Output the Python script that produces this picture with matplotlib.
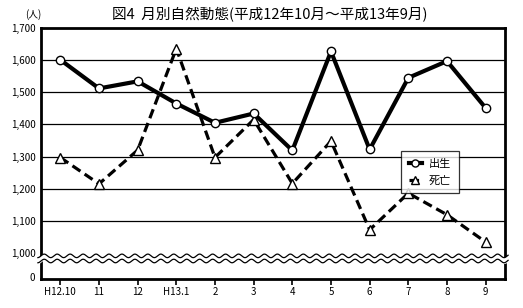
import numpy as np
import matplotlib
matplotlib.use('Agg')
import matplotlib.pyplot as plt

plt.rcParams['font.family'] = ['Noto Sans CJK JP', 'DejaVu Sans']

# data
months = ['H12.10', '11', '12', 'H13.1', '2', '3', '4', '5', '6', '7', '8', '9']
births = [1601, 1512, 1534, 1465, 1405, 1434, 1319, 1627, 1322, 1545, 1597, 1451]
deaths = [1297, 1215, 1320, 1636, 1297, 1415, 1216, 1348, 1072, 1186, 1119, 1034]
ytick_values = [1000, 1100, 1200, 1300, 1400, 1500, 1600, 1700]

y_bottom = 919
zero_pos = 925

fig = plt.figure(figsize=(5.23, 3.08), dpi=100)
ax = fig.add_axes([41/523, 1-279/308, 464/523, 251/308])

x = np.arange(len(months))

# grid
for v in ytick_values[1:-1]:
    ax.axhline(v, color='black', lw=0.9, zorder=1)

ax.plot(x, births, color='black', lw=3, marker='o', ms=6, mfc='white',
        mec='black', mew=1, label='出生', zorder=5)
ax.plot(x, deaths, color='black', lw=2.3, ls=(0, (3, 1.6)), marker='^', ms=7,
        mfc='white', mec='black', mew=1, label='死亡', zorder=4)

ax.set_xlim(-0.5, len(months) - 0.5)
ax.set_ylim(y_bottom, 1700)

# axis break
xw = np.linspace(-0.58, len(months) - 0.42, 600)
wave = 5.5 * np.sin(2 * np.pi * (xw + 0.5) / 0.335)
ax.fill_between(xw, 991 + wave, 975 + wave, color='white', zorder=3, clip_on=False)
ax.plot(xw, 991 + wave, color='black', lw=0.9, zorder=3.5, clip_on=False)
ax.plot(xw, 975 + wave, color='black', lw=0.9, zorder=3.5, clip_on=False)

ax.set_yticks(ytick_values + [zero_pos])
ax.set_yticklabels(['{:,}'.format(v) for v in ytick_values] + ['0'])
ax.set_xticks(x)
ax.set_xticklabels(months)
ax.tick_params(axis='y', length=0, labelsize=7, pad=4)
ax.tick_params(axis='x', length=4, width=1.2, labelsize=7, pad=2)

for s in ax.spines.values():
    s.set_linewidth(2)

fig.text(0.048, 0.953, '(人)', fontsize=7, ha='left', va='center')
fig.text(0.516, 0.953, '図4  月別自然動態(平成12年10月～平成13年9月)', fontsize=10.5,
         ha='center', va='center')

leg = ax.legend(loc='upper left', bbox_to_anchor=(360/464, (279-151)/251),
                fontsize=8, handlelength=1.2, frameon=True, fancybox=False,
                edgecolor='black', borderpad=0.7, labelspacing=0.6, markerscale=0.85,
                handletextpad=0.6, borderaxespad=0)
leg.get_frame().set_linewidth(0.9)

fig.savefig('out.png', dpi=100)
